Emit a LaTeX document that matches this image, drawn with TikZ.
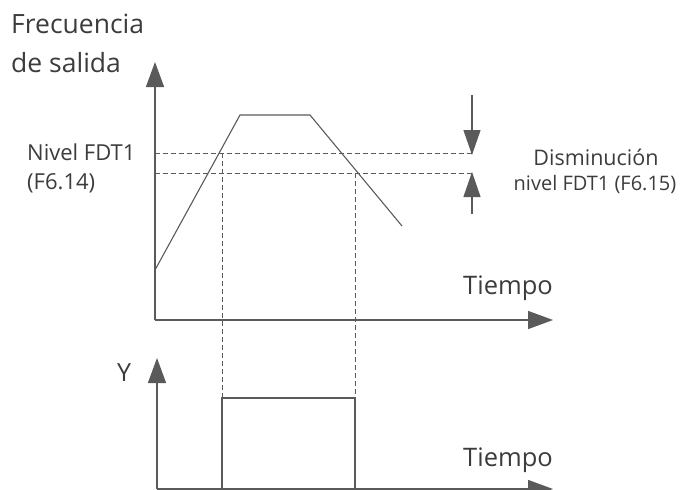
\documentclass[tikz,border=0pt]{standalone}
\usepackage{fontspec}
\setmainfont{Open Sans}
\usetikzlibrary{arrows.meta}
\definecolor{ln}{HTML}{5A5A5A}
\definecolor{tx}{HTML}{3C3C3C}
\tikzset{
  axis/.style={draw=ln, line width=1.3pt, -{Triangle[length=25pt,width=18pt]}},
  curve/.style={draw=ln, line width=1.1pt},
  dsh/.style={draw=ln, line width=0.9pt, dash pattern=on 5pt off 3pt},
  marker/.style={draw=ln, line width=1.1pt, -{Triangle[length=25pt,width=17pt]}},
  lbl/.style={text=tx, inner sep=0pt, anchor=base west},
}
\begin{document}
\begin{tikzpicture}[x=1pt,y=-1pt]
\useasboundingbox (0,0) rectangle (689,490);
% upper axes
\coordinate (o1) at (155,320);
\coordinate (y1) at (155,62);
\coordinate (x1) at (553,320);
\draw[axis] (o1) -- (y1);
\draw[axis] (o1) -- (x1);
% curve
\coordinate (c0) at (155,270);
\coordinate (c1) at (240,115);
\coordinate (c2) at (310,115);
\coordinate (c3) at (402,226);
\draw[curve] (c0) -- (c1) -- (c2) -- (c3);
% levels
\coordinate (l1a) at (155,153);
\coordinate (l1b) at (472,153);
\coordinate (l2a) at (155,173);
\coordinate (l2b) at (472,173);
\draw[dsh] (l1a) -- (l1b);
\draw[dsh] (l2a) -- (l2b);
% markers
\coordinate (m1s) at (472,95);
\coordinate (m1e) at (472,155);
\coordinate (m2s) at (472,214);
\coordinate (m2e) at (472,172);
\draw[marker] (m1s) -- (m1e);
\draw[marker] (m2s) -- (m2e);
% vertical dashed
\coordinate (v1t) at (222,153);
\coordinate (v1b) at (222,398);
\coordinate (v2t) at (355,173);
\coordinate (v2b) at (355,398);
\draw[dsh] (v1t) -- (v1b);
\draw[dsh] (v2t) -- (v2b);
% lower axes
\coordinate (o2) at (157,489);
\coordinate (y2) at (157,358);
\coordinate (x2) at (553,489);
\draw[axis] (o2) -- (y2);
\draw[axis] (o2) -- (x2);
% pulse
\coordinate (p0) at (222,489);
\coordinate (p1) at (222,398);
\coordinate (p2) at (355,398);
\coordinate (p3) at (355,489);
\draw[curve] (p0) -- (p1) -- (p2) -- (p3);
% labels
\node[lbl, font=\fontsize{26.5}{30}\selectfont] (f1) at (11,33) {Frecuencia};
\node[lbl, font=\fontsize{26.5}{30}\selectfont] (f2) at (11,72) {de salida};
\node[lbl, font=\fontsize{22}{26}\selectfont] (n1) at (27,160) {Nivel FDT1};
\node[lbl, font=\fontsize{22}{26}\selectfont] (n2) at (27,189) {(F6.14)};
\node[lbl, font=\fontsize{21.5}{26}\selectfont, anchor=base] (d1) at (596,165) {Disminución};
\node[lbl, font=\fontsize{20}{24}\selectfont, anchor=base] (d2) at (595,190) {nivel FDT1 (F6.15)};
\node[lbl, font=\fontsize{25.5}{30}\selectfont] (t1) at (463,294) {Tiempo};
\node[lbl, font=\fontsize{25.5}{30}\selectfont] (t2) at (463,466) {Tiempo};
\node[lbl, font=\fontsize{25}{28}\selectfont] (yl) at (117,381) {Y};
\end{tikzpicture}
\end{document}
